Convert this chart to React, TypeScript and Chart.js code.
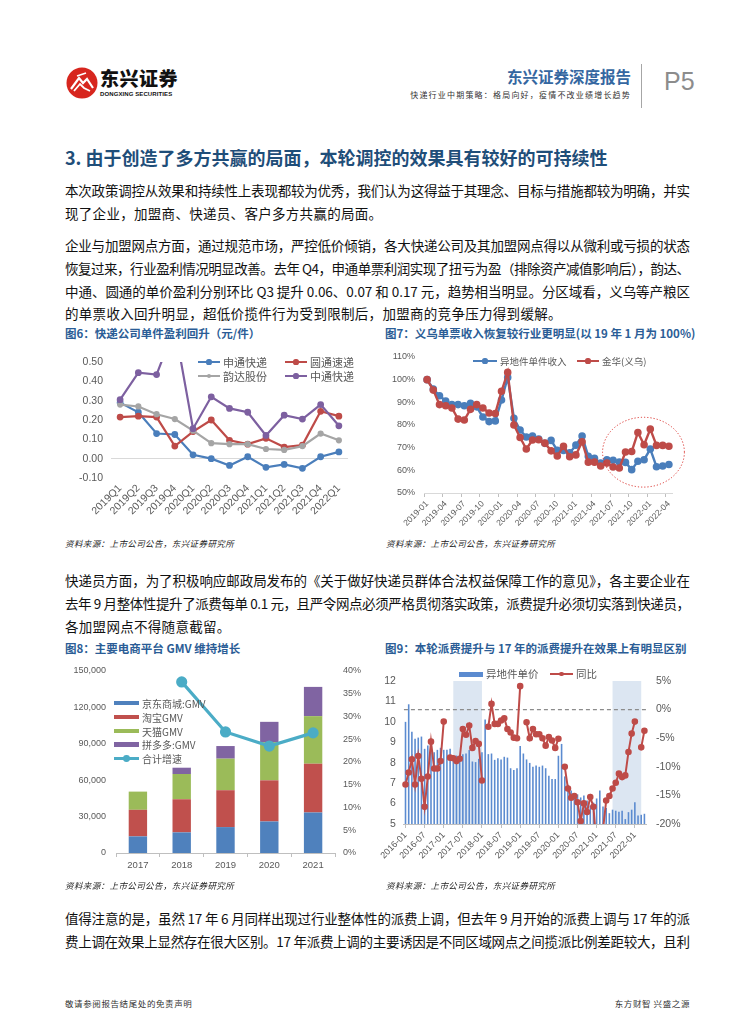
import React, { useEffect, useRef } from 'react';
import { Chart, registerables } from 'chart.js';
Chart.register(...registerables);

const NUM_FONT = '"Liberation Sans", Arial, "Noto Sans CJK SC", sans-serif';
const CJK_FONT = '"Noto Sans CJK SC", "Liberation Sans", sans-serif';
const TICK_GRAY = '#595959';
const TITLE_BLUE = '#2b5d96';
const C_BLUE = '#4a7ebb';
const C_RED = '#be4b48';
const C_GRAY = '#a5a5a5';
const C_PURPLE = '#7d60a0';

// ================= 图6 =================
const quarters6 = ['2019Q1', '2019Q2', '2019Q3', '2019Q4', '2020Q1', '2020Q2', '2020Q3', '2020Q4', '2021Q1', '2021Q2', '2021Q3', '2021Q4', '2022Q1'];
const shentong6 = [0.29, 0.24, 0.13, 0.125, 0.02, 0.0, -0.035, 0.01, -0.045, -0.03, -0.05, 0.01, 0.035];
const yuantong6 = [0.215, 0.22, 0.215, 0.065, 0.14, 0.2, 0.095, 0.075, 0.105, 0.06, 0.07, 0.245, 0.22];
const yunda6 = [0.28, 0.27, 0.23, 0.205, 0.145, 0.08, 0.075, 0.075, 0.05, 0.045, 0.065, 0.13, 0.095];
const zhongtong6 = [0.305, 0.445, 0.435, 0.68, 0.155, 0.32, 0.26, 0.24, 0.12, 0.225, 0.205, 0.28, 0.17];

// ================= 图7 =================
function monthLabels(y0: number, m0: number, n: number): string[] {
  const out: string[] = [];
  for (let k = 0; k < n; k++) {
    const m = m0 - 1 + k;
    out.push(`${y0 + Math.floor(m / 12)}-${String((m % 12) + 1).padStart(2, '0')}`);
  }
  return out;
}
const months7 = monthLabels(2019, 1, 40);
const remote7 = [100, 95.9, 92.9, 90.6, 89, 89, 88.5, 89.6, 88, 83.5, 81.5, 81.8, 91, 101, 83, 77.8, 74.7, 75.1, 73.8, 71.9,
  73.2, 68.8, 68.8, 67.7, 71.1, 75.1, 66.2, 65.3, 63.2, 64.7, 64.4, 63.7, 63.5, 60.3, 64, 64.7, 69.4, 61.6, 61.9, 62.6];
const jinhua7 = [100, 95.4, 89, 88.5, 87.5, 82.6, 82.2, 86.9, 89, 87.5, 85.3, 85.1, 94.9, 103.2, 80, 74.5, 69.4, 73.4, 73.5, 72,
  68.6, 66.3, 70.6, 66, 66.8, 72.6, 63.6, 63.6, 61.9, 63.2, 61.5, 61, 68.1, 68.3, 76.7, 71.3, 78.2, 71, 71, 70.6];
const ellipse7 = { centerIndex: 34.9, centerValue: 68, halfMonths: 6.6, halfValue: 15.4 };

// ================= 图8 =================
const years8 = ['2017', '2018', '2019', '2020', '2021'];
const jd8 = [13700, 17000, 21350, 26000, 33400];
const taobao8 = [21900, 27300, 30400, 33900, 40200];
const tmall8 = [15000, 20800, 26000, 31500, 39200];
const pdd8 = [null, 5200, 10400, 16700, 24100];
const growth8 = [null, 37.6, 26.6, 23.5, 26.4];

// ================= 图9 =================
const months9 = monthLabels(2016, 1, 76);
const price9 = [10.0, 10.86, 9.52, 9.17, 9.23, 9.28, 8.68, 8.84, 8.74, 8.51, 8.63, 8.73, 8.63, 8.63, 8.68, 8.35, 8.35, 8.35, 8.42, 8.45,
  8.62, 8.06, 8.03, 8.19, 8.51, 10.11, 8.42, 8.45, 8.14, 8.22, 8.16, 8.29, 8.25, 7.73, 7.64, 7.73, 8.82, 8.45, 8.16, 7.99,
  7.8, 7.86, 7.8, 7.86, 7.73, 7.36, 7.2, 7.2, 8.34, 8.92, 7.33, 6.92, 6.64, 6.5, 6.45, 6.3, 6.4, 6.15, 5.9, 6.05,
  6.25, 6.64, 5.86, 5.78, 5.53, 5.7, 5.65, 5.6, 5.65, 5.24, 5.58, 5.7, 6.07, 5.42, 5.45, 5.5];
const yoy9 = [-13.1, -11, -8.7, -13.1, -8.1, -12.1, -17.0, -11.7, -5.6, -10.3, -10.3, -9.0, -2.1, null, -8.4, -8.5, -9.0, -8.6, -3.4, -4.4,
  -2.8, -6.7, -5.5, -6.0, -12.4, null, -3.0, 1.0, -2.5, -2.5, -1.9, -1.5, -3.4, -4.0, -4.9, -5.0, 4.1, null, -2.2, -5.0,
  -3.4, -4.3, -4.3, -5.0, -6.3, -4.8, -5.4, -6.7, -5.1, null, -10.0, -13.8, -15.4, -15.1, -16.2, -19.5, -16.4, -17.9, -15.3, -17.0,
  -24, null, -21, -15.9, -15.1, -13.8, -12.8, -11.2, -11.8, -11.5, -7.4, -4.2, -2.1, null, -6.6, -3.7];
const shade9: [string, string][] = [['2017-04', '2018-01'], ['2021-06', '2022-03']];

// ================= helpers =================
function lineDs(label: string, data: (number | null)[], color: string, order: number, extra: any = {}) {
  return {
    type: 'line', label, data, order,
    borderColor: color, backgroundColor: color, pointBackgroundColor: color, pointBorderColor: color,
    borderWidth: 2.2, pointRadius: 2.3, pointHoverRadius: 2.3, tension: 0, ...extra,
  };
}
const tickFont = (size: number) => ({ family: NUM_FONT, size });

function ChartBox({ left, top, width, height, make }: { left: number; top: number; width: number; height: number; make: () => any }) {
  const ref = useRef<HTMLCanvasElement>(null);
  useEffect(() => {
    const chart = new Chart(ref.current as HTMLCanvasElement, make());
    return () => chart.destroy();
  }, []);
  return (
    <div style={{ position: 'absolute', left, top, width, height }}>
      <canvas ref={ref} width={width} height={height} style={{ width, height, display: 'block' }} />
    </div>
  );
}

const baseOpts = {
  responsive: false,
  animation: false,
  events: [],
  plugins: { legend: { display: false }, tooltip: { enabled: false } },
};

function make6() {
  return {
    type: 'line',
    data: {
      labels: quarters6,
      datasets: [
        lineDs('申通快递', shentong6, C_BLUE, 3),
        lineDs('圆通速递', yuantong6, C_RED, 2),
        lineDs('韵达股份', yunda6, C_GRAY, 1, { pointRadius: 2 }),
        lineDs('中通快递', zhongtong6, C_PURPLE, 0),
      ],
    },
    options: {
      ...baseOpts,
      layout: { padding: { top: 22, right: 27, left: 0, bottom: 0 } },
      scales: {
        x: {
          offset: true,
          grid: { display: false, drawTicks: false },
          border: { display: false },
          ticks: { autoSkip: false, maxRotation: 45, minRotation: 45, padding: 4, color: TICK_GRAY, font: tickFont(10.5) },
          afterFit: (s: any) => { s.height = 42; },
        },
        y: {
          min: -0.1, max: 0.5,
          ticks: {
            stepSize: 0.1, padding: 8, color: TICK_GRAY, font: tickFont(10.5),
            callback: (v: any) => { const n = Number(v); return (Math.abs(n) < 1e-9 ? 0 : n).toFixed(2); },
          },
          grid: { drawTicks: false, color: (c: any) => (c.tick && Math.abs(c.tick.value) < 1e-9 ? '#d9d9d9' : 'rgba(0,0,0,0)') },
          border: { display: false },
          afterFit: (s: any) => { s.width = 56; },
        },
      },
    },
  };
}

const ellipsePlugin = {
  id: 'ellipse7',
  afterDatasetsDraw(chart: any) {
    const { ctx, scales } = chart;
    const x = scales.x, y = scales.y;
    const step = x.getPixelForValue(1) - x.getPixelForValue(0);
    const cx = x.getPixelForValue(0) + ellipse7.centerIndex * step;
    const cy = y.getPixelForValue(ellipse7.centerValue);
    const rx = ellipse7.halfMonths * step;
    const ry = Math.abs(y.getPixelForValue(ellipse7.centerValue + ellipse7.halfValue) - cy);
    ctx.save();
    ctx.strokeStyle = '#d9302b';
    ctx.lineWidth = 1;
    ctx.setLineDash([1.2, 2]);
    ctx.beginPath();
    ctx.ellipse(cx, cy, rx, ry, 0, 0, Math.PI * 2);
    ctx.stroke();
    ctx.restore();
  },
};

function make7() {
  return {
    type: 'line',
    data: {
      labels: months7,
      datasets: [
        lineDs('异地件单件收入', remote7, C_BLUE, 1, { borderWidth: 2.4, pointRadius: 2.6 }),
        lineDs('金华(义乌)', jinhua7, C_RED, 0, { borderWidth: 2.4, pointRadius: 2.6 }),
      ],
    },
    plugins: [ellipsePlugin],
    options: {
      ...baseOpts,
      layout: { padding: { top: 17, right: 28, left: 0, bottom: 0 } },
      scales: {
        x: {
          offset: true,
          grid: { drawOnChartArea: false, offset: true, tickLength: 4, color: (c: any) => (c.index % 3 === 0 ? '#bfbfbf' : 'rgba(0,0,0,0)') },
          border: { display: true, color: '#d9d9d9' },
          ticks: {
            autoSkip: false, maxRotation: 45, minRotation: 45, padding: 2, color: TICK_GRAY, font: tickFont(8.5),
            callback: (_v: any, i: number) => (i % 3 === 0 ? months7[i] : ''),
          },
          afterFit: (s: any) => { s.height = 42; },
        },
        y: {
          min: 50, max: 110,
          ticks: { stepSize: 10, padding: 9, color: TICK_GRAY, font: tickFont(9), callback: (v: any) => `${v}%` },
          grid: { display: false, drawTicks: false },
          border: { display: false },
          afterFit: (s: any) => { s.width = 44; },
        },
      },
    },
  };
}

function make8() {
  const bar = (label: string, data: (number | null)[], color: string) => ({
    type: 'bar', label, data, backgroundColor: color, borderWidth: 0, order: 1, yAxisID: 'y',
    barPercentage: 0.42, categoryPercentage: 1,
  });
  return {
    type: 'bar',
    data: {
      labels: years8,
      datasets: [
        bar('京东商城:GMV', jd8, '#4f81bd'),
        bar('淘宝GMV', taobao8, '#c0504d'),
        bar('天猫GMV', tmall8, '#9bbb59'),
        bar('拼多多:GMV', pdd8, '#8064a2'),
        {
          type: 'line', label: '合计增速', data: growth8, yAxisID: 'y1', order: 0,
          borderColor: '#4bacc6', backgroundColor: '#4bacc6', pointBackgroundColor: '#4bacc6', pointBorderColor: '#4bacc6',
          borderWidth: 3.2, pointRadius: 4, tension: 0,
        },
      ],
    },
    options: {
      ...baseOpts,
      layout: { padding: { top: 16, right: 0, left: 0, bottom: 0 } },
      scales: {
        x: {
          stacked: true,
          grid: { drawOnChartArea: false, tickLength: 4, color: '#bfbfbf' },
          border: { display: true, color: '#bfbfbf' },
          ticks: { padding: 3, color: TICK_GRAY, font: tickFont(9.5) },
          afterFit: (s: any) => { s.height = 27; },
        },
        y: {
          stacked: true, min: 0, max: 150000, position: 'left',
          ticks: { stepSize: 30000, padding: 10, color: TICK_GRAY, font: tickFont(9), callback: (v: any) => Number(v).toLocaleString('en-US') },
          grid: { display: false, drawTicks: false },
          border: { display: false },
          afterFit: (s: any) => { s.width = 61; },
        },
        y1: {
          min: 0, max: 40, position: 'right',
          ticks: { stepSize: 5, padding: 8, color: TICK_GRAY, font: tickFont(9), callback: (v: any) => `${v}%` },
          grid: { display: false, drawTicks: false },
          border: { display: false },
          afterFit: (s: any) => { s.width = 40; },
        },
      },
    },
  };
}

const plugin9 = {
  id: 'shade9',
  beforeDatasetsDraw(chart: any) {
    const { ctx, chartArea, scales } = chart;
    ctx.save();
    ctx.fillStyle = '#dce6f2';
    for (const [a, b] of shade9) {
      const x1 = scales.x.getPixelForValue(months9.indexOf(a));
      const x2 = scales.x.getPixelForValue(months9.indexOf(b));
      ctx.fillRect(x1, chartArea.top, x2 - x1, chartArea.bottom - chartArea.top);
    }
    ctx.restore();
  },
  afterDatasetDraw(chart: any, args: any) {
    if (args.index !== 0) return;
    const { ctx, chartArea, scales } = chart;
    const y = scales.y1.getPixelForValue(0);
    ctx.save();
    ctx.strokeStyle = '#8c8c8c';
    ctx.lineWidth = 1.1;
    ctx.setLineDash([4, 3]);
    ctx.beginPath();
    ctx.moveTo(chartArea.left, y);
    ctx.lineTo(chartArea.right, y);
    ctx.stroke();
    ctx.restore();
  },
};

function make9() {
  return {
    type: 'bar',
    data: {
      labels: months9,
      datasets: [
        {
          type: 'bar', label: '异地件单价', data: price9, yAxisID: 'y', order: 1,
          backgroundColor: '#5b8bd0', borderWidth: 0, barPercentage: 0.5, categoryPercentage: 1,
        },
        lineDs('同比', yoy9, C_RED, 0, { yAxisID: 'y1', borderWidth: 2, pointRadius: 2.3 }),
      ],
    },
    plugins: [plugin9],
    options: {
      ...baseOpts,
      layout: { padding: { top: 21, right: 0, left: 0, bottom: 0 } },
      scales: {
        x: {
          grid: { drawOnChartArea: false, offset: false, tickLength: 4, color: (c: any) => (c.index % 6 === 0 ? '#bfbfbf' : 'rgba(0,0,0,0)') },
          border: { display: true, color: '#bfbfbf' },
          ticks: {
            autoSkip: false, maxRotation: 45, minRotation: 45, padding: 2, color: TICK_GRAY, font: tickFont(9),
            callback: (_v: any, i: number) => (i % 6 === 0 ? months9[i] : ''),
          },
          afterFit: (s: any) => { s.height = 41; },
        },
        y: {
          min: 5, max: 12, position: 'left',
          ticks: { stepSize: 1, padding: 8, color: TICK_GRAY, font: tickFont(10.5) },
          grid: { display: false, drawTicks: false },
          border: { display: false },
          afterFit: (s: any) => { s.width = 23.5; },
        },
        y1: {
          min: -20, max: 5, position: 'right',
          ticks: { stepSize: 5, padding: 10, color: TICK_GRAY, font: tickFont(10.5), callback: (v: any) => `${v}%` },
          grid: { display: false, drawTicks: false },
          border: { display: false },
          afterFit: (s: any) => { s.width = 54; },
        },
      },
    },
  };
}

// ================= text helpers =================
const BODY_FONT_SIZE = 13.5;
const BODY_LEFT = 65;
const BODY_WIDTH = 625;
let measureCtx: CanvasRenderingContext2D | null = null;
function measure(text: string, font: string): number {
  if (!measureCtx) measureCtx = document.createElement('canvas').getContext('2d');
  measureCtx!.font = font;
  return measureCtx!.measureText(text).width;
}

function TextLine({ y, text, full }: { y: number; text: string; full?: boolean }) {
  let ls = 0.3;
  if (full) {
    const w = measure(text, `${BODY_FONT_SIZE}px "Noto Sans CJK SC"`);
    const n = Array.from(text).length;
    ls = (BODY_WIDTH - w) / (n - 1);
  }
  return (
    <div style={{
      position: 'absolute', left: BODY_LEFT, top: y - 10, height: 20, lineHeight: '20px', whiteSpace: 'nowrap',
      fontSize: BODY_FONT_SIZE, letterSpacing: ls, color: '#111', fontFamily: CJK_FONT,
    }}>{text}</div>
  );
}

function Title({ x, y, text }: { x: number; y: number; text: string }) {
  return (
    <div style={{ position: 'absolute', left: x, top: y - 9, lineHeight: '18px', whiteSpace: 'nowrap', fontSize: 11.5, fontWeight: 700, color: TITLE_BLUE, fontFamily: CJK_FONT }}>{text}</div>
  );
}

function Source({ x, y }: { x: number; y: number }) {
  return (
    <div style={{ position: 'absolute', left: x, top: y - 7, lineHeight: '14px', whiteSpace: 'nowrap', fontSize: 8.5, fontStyle: 'italic', color: '#222', fontFamily: CJK_FONT, letterSpacing: 0.4 }}>
      资料来源：上市公司公告，东兴证券研究所
    </div>
  );
}

function LineKey({ x, y, w, color, text, fs, lw = 2.4, r = 2.6 }: { x: number; y: number; w: number; color: string; text: string; fs: number; lw?: number; r?: number }) {
  return (
    <>
      <div style={{ position: 'absolute', left: x, top: y - lw / 2, width: w, height: lw, background: color }} />
      <div style={{ position: 'absolute', left: x + w / 2 - r, top: y - r, width: r * 2, height: r * 2, borderRadius: '50%', background: color }} />
      <div style={{ position: 'absolute', left: x + w + 3, top: y - fs * 0.75, lineHeight: `${fs * 1.5}px`, fontSize: fs, color: TICK_GRAY, whiteSpace: 'nowrap', fontFamily: CJK_FONT }}>{text}</div>
    </>
  );
}

function RectKey({ x, y, w, h, color, text, fs }: { x: number; y: number; w: number; h: number; color: string; text: string; fs: number }) {
  return (
    <>
      <div style={{ position: 'absolute', left: x, top: y - h / 2, width: w, height: h, background: color }} />
      <div style={{ position: 'absolute', left: x + w + 3, top: y - fs * 0.75, lineHeight: `${fs * 1.5}px`, fontSize: fs, color: TICK_GRAY, whiteSpace: 'nowrap', fontFamily: CJK_FONT }}>{text}</div>
    </>
  );
}

function Logo() {
  return (
    <svg width={32} height={32} viewBox="0 0 32 32" style={{ position: 'absolute', left: 66, top: 67 }}>
      <circle cx={16} cy={16} r={15.5} fill="#d7261e" />
      <path d="M5 22 L13 11 L17 16 L21 12 L27 21" fill="none" stroke="#fff" strokeWidth={2.2} />
      <path d="M8 24 L14 17 L18 21 L24 24" fill="none" stroke="#fff" strokeWidth={1.8} />
      <path d="M11 9 L20 6" fill="none" stroke="#fff" strokeWidth={1.6} />
    </svg>
  );
}

export default function App() {
  return (
    <div style={{ position: 'absolute', left: 0, top: 0, width: 755, height: 1024, background: '#fff', overflow: 'hidden', fontFamily: CJK_FONT }}>
      {/* header */}
      <Logo />
      <div style={{ position: 'absolute', left: 100, top: 66, fontSize: 19, fontWeight: 900, lineHeight: '24px', color: '#111', letterSpacing: 0.5 }}>东兴证券</div>
      <div style={{ position: 'absolute', left: 100, top: 90, fontSize: 6, fontWeight: 700, lineHeight: '9px', color: '#111', fontFamily: NUM_FONT, letterSpacing: 0.1 }}>DONGXING SECURITIES</div>
      <div style={{ position: 'absolute', right: 755 - 631, top: 65, fontSize: 15.5, fontWeight: 700, lineHeight: '22px', color: '#3567a1', whiteSpace: 'nowrap' }}>东兴证券深度报告</div>
      <div style={{ position: 'absolute', right: 755 - 631, top: 89, fontSize: 8, lineHeight: '12px', color: '#333', whiteSpace: 'nowrap', letterSpacing: 1.2 }}>快递行业中期策略：格局向好，疫情不改业绩增长趋势</div>
      <div style={{ position: 'absolute', left: 641, top: 64, width: 1, height: 44, background: '#a6a6a6' }} />
      <div style={{ position: 'absolute', left: 664, top: 66, fontSize: 25, lineHeight: '30px', color: '#8c8c8c', fontFamily: NUM_FONT }}>P5</div>

      {/* heading */}
      <div style={{ position: 'absolute', left: 65, top: 144, fontSize: 18, fontWeight: 700, lineHeight: '26px', color: '#1f4e79', whiteSpace: 'nowrap' }}>3. 由于创造了多方共赢的局面，本轮调控的效果具有较好的可持续性</div>

      <TextLine y={190} full text="本次政策调控从效果和持续性上表现都较为优秀，我们认为这得益于其理念、目标与措施都较为明确，并实" />
      <TextLine y={213} text="现了企业，加盟商、快递员、客户多方共赢的局面。" />

      <TextLine y={245} full text="企业与加盟网点方面，通过规范市场，严控低价倾销，各大快递公司及其加盟网点得以从微利或亏损的状态" />
      <TextLine y={268} full text="恢复过来，行业盈利情况明显改善。去年 Q4，申通单票利润实现了扭亏为盈（排除资产减值影响后），韵达、" />
      <TextLine y={291} full text="中通、圆通的单价盈利分别环比 Q3 提升 0.06、0.07 和 0.17 元，趋势相当明显。分区域看，义乌等产粮区" />
      <TextLine y={313} text="的单票收入回升明显，超低价揽件行为受到限制后，加盟商的竞争压力得到缓解。" />

      {/* figure 6 & 7 */}
      <Title x={65} y={333} text="图6：快递公司单件盈利回升（元/件）" />
      <Title x={385} y={333} text="图7：义乌单票收入恢复较行业更明显(以 19 年 1 月为 100%)" />
      <ChartBox left={55} top={340} width={320} height={180} make={make6} />
      <LineKey x={198} y={362} w={22} color={C_BLUE} text="申通快递" fs={11} />
      <LineKey x={285} y={362} w={22} color={C_RED} text="圆通速递" fs={11} />
      <LineKey x={198} y={376} w={22} color={C_GRAY} text="韵达股份" fs={11} r={2.2} />
      <LineKey x={285} y={376} w={22} color={C_PURPLE} text="中通快递" fs={11} />
      <ChartBox left={380} top={340} width={320} height={195} make={make7} />
      <LineKey x={473} y={361} w={24} color={C_BLUE} text="异地件单件收入" fs={9.5} />
      <LineKey x={577} y={361} w={22} color={C_RED} text="金华(义乌)" fs={9.5} />
      <Source x={65} y={543} />
      <Source x={386} y={543} />

      <TextLine y={580} full text="快递员方面，为了积极响应邮政局发布的《关于做好快递员群体合法权益保障工作的意见》，各主要企业在" />
      <TextLine y={603} full text="去年 9 月整体性提升了派费每单 0.1 元，且严令网点必须严格贯彻落实政策，派费提升必须切实落到快递员，" />
      <TextLine y={626} text="各加盟网点不得随意截留。" />

      {/* figure 8 & 9 */}
      <Title x={65} y={648} text="图8：主要电商平台 GMV 维持增长" />
      <Title x={385} y={648} text="图9：本轮派费提升与 17 年的派费提升在效果上有明显区别" />
      <ChartBox left={55} top={655} width={320} height={225} make={make8} />
      <RectKey x={114} y={703} w={25} h={4.5} color="#4f81bd" text="京东商城:GMV" fs={10} />
      <RectKey x={114} y={717} w={25} h={4.5} color="#c0504d" text="淘宝GMV" fs={10} />
      <RectKey x={114} y={731} w={25} h={4.5} color="#9bbb59" text="天猫GMV" fs={10} />
      <RectKey x={114} y={744.5} w={25} h={4.5} color="#8064a2" text="拼多多:GMV" fs={10} />
      <LineKey x={114} y={758.5} w={25} color="#4bacc6" text="合计增速" fs={10} lw={3} r={3.4} />
      <ChartBox left={380} top={660} width={320} height={205} make={make9} />
      <RectKey x={459} y={674} w={24} h={5} color="#5b8bd0" text="异地件单价" fs={10.5} />
      <LineKey x={550} y={674} w={23} color={C_RED} text="同比" fs={10.5} lw={2} r={2.4} />
      <Source x={65} y={885} />
      <Source x={386} y={885} />

      <TextLine y={918} full text="值得注意的是，虽然 17 年 6 月同样出现过行业整体性的派费上调，但去年 9 月开始的派费上调与 17 年的派" />
      <TextLine y={941} full text="费上调在效果上显然存在很大区别。17 年派费上调的主要诱因是不同区域网点之间揽派比例差距较大，且利" />

      {/* footer */}
      <div style={{ position: 'absolute', left: 65, top: 997, fontSize: 8.5, lineHeight: '12px', color: '#333', letterSpacing: 0.6 }}>敬请参阅报告结尾处的免责声明</div>
      <div style={{ position: 'absolute', right: 755 - 690, top: 997, fontSize: 8.5, lineHeight: '12px', color: '#333', letterSpacing: 0.6 }}>东方财智 兴盛之源</div>
    </div>
  );
}
